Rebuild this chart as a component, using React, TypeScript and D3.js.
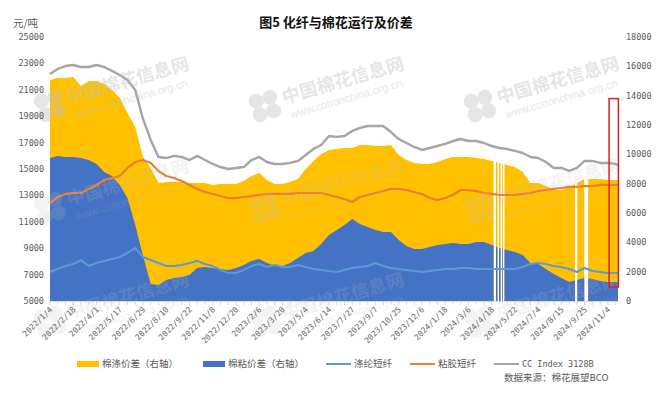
import React from "react";
import * as d3 from "d3";

// ---------- DATA ----------
// trading-day index of each sample (0 = 2022/1/4)
const sampleDays = [
  0, 10, 20, 30, 40, 50, 60, 70, 80, 90, 100, 110, 120, 130, 140, 150, 160, 170, 180, 190,
  200, 210, 220, 230, 240, 250, 260, 270, 280, 290, 300, 310, 320, 330, 340, 350, 360, 370, 380, 390,
  400, 410, 420, 430, 440, 450, 460, 470, 480, 490, 500, 510, 520, 530, 540, 550, 560, 570, 580, 590,
  600, 610, 620, 630, 640, 650, 660, 670, 680, 690, 700, 710, 720, 730, 733,
];

// CC Index 3128B (left axis, 元/吨)
const cottonIndex = [
  22200, 22580, 22800, 22880, 22730, 22730, 22880, 22730, 22430, 22120,
  21740, 20990, 18790, 17200, 15910, 15830, 15990, 15910, 15680, 15990,
  15680, 15380, 15150, 15000, 15080, 15150, 15680, 15910, 15530, 15380,
  15380, 15460, 15610, 16060, 16520, 16820, 17500, 17430, 17500, 17880,
  18110, 18260, 18260, 18260, 17800, 17270, 16970, 16670, 16440, 16590,
  16740, 16900, 17120, 17270, 17120, 17120, 16970, 16740, 16590, 16520,
  16370, 16210, 15910, 15830, 15530, 15080, 15080, 14850, 15080, 15610,
  15610, 15460, 15460, 15380, 15300,
];

// 涤纶短纤 (left axis)
const polyesterStaple = [
  7200, 7420, 7650, 7800, 8100, 7650, 7880, 8030, 8180, 8330,
  8640, 9020, 8330, 8110, 7880, 7650, 7650, 7730, 7880, 8030,
  7800, 7650, 7350, 7120, 7120, 7350, 7650, 7800, 7580, 7730,
  7580, 7580, 7730, 7580, 7420, 7350, 7270, 7200, 7350, 7500,
  7580, 7650, 7880, 7650, 7500, 7420, 7350, 7270, 7200, 7270,
  7350, 7420, 7420, 7500, 7500, 7420, 7420, 7420, 7420, 7420,
  7420, 7580, 7800, 7880, 7800, 7650, 7580, 7420, 7200, 7500,
  7270, 7200, 7120, 7120, 7120,
];

// 粘胶短纤 (left axis)
const viscoseStaple = [
  12420, 12880, 13110, 13180, 13180, 13490, 13790, 14170, 14320, 14470,
  15080, 15530, 15680, 15450, 14850, 14470, 14320, 14090, 13790, 13490,
  13260, 13110, 12950, 12800, 12800, 12880, 12950, 13030, 13110, 13110,
  13110, 13110, 13180, 13180, 13180, 13180, 13030, 12880, 12730, 12500,
  12880, 13030, 13180, 13330, 13490, 13490, 13410, 13260, 13110, 12800,
  12650, 12800, 13030, 13410, 13410, 13330, 13180, 13110, 13030, 13030,
  13030, 13110, 13180, 13330, 13410, 13490, 13560, 13640, 13640, 13710,
  13710, 13790, 13790, 13790, 13790,
];

// 棉涤价差 (right axis)
const cottonPolySpread = [
  15070, 15200, 15200, 15270, 14660, 15000, 15000, 14800, 14390, 13840,
  12820, 11860, 9820, 9070, 8050, 8110, 8110, 8110, 8050, 8050,
  8050, 7910, 7980, 7980, 7980, 8180, 8520, 8730, 8250, 7980,
  7980, 8110, 8320, 9000, 9550, 10020, 10300, 10360, 10430, 10430,
  10640, 10640, 10570, 10570, 10640, 9950, 9610, 9410, 9340, 9340,
  9480, 9680, 9820, 9820, 9820, 9750, 9680, 9550, 9410, 9270,
  9140, 8800, 8050, 8050, 7840, 7570, 7570, 7770, 8050, 8320,
  8320, 8320, 8250, 8250, 8250,
];

// 棉粘价差 (right axis)
const cottonViscoseSpread = [
  9750, 9890, 9820, 9820, 9750, 9610, 9340, 8800, 8520, 7910,
  7020, 5180, 3070, 1160, 1090, 1430, 1570, 1640, 1770, 2250,
  2320, 2250, 2180, 2110, 2250, 2450, 2730, 2860, 2590, 2390,
  2390, 2590, 2930, 3270, 3410, 3890, 4500, 4840, 5180, 5590,
  5250, 5050, 4840, 4700, 4700, 4160, 3750, 3550, 3550, 3680,
  3820, 3890, 3950, 3890, 3890, 4020, 4020, 3820, 3610, 3480,
  3340, 3140, 2590, 2520, 2180, 1840, 1570, 1300, 1430, 1570,
  1500, 1360, 1300, 1300, 1300,
];

// trading days with no spread data (white gaps in the areas)
const gapDays = [573, 574, 575, 578, 579, 582, 583, 585, 586, 678, 679, 680, 690, 691, 692, 693, 694];

// category axis labels, one every 30 trading days
const dateLabels = [
  "2022/1/4", "2022/2/18", "2022/4/1", "2022/5/17", "2022/6/29", "2022/8/10", "2022/9/22",
  "2022/11/8", "2022/12/20", "2023/2/6", "2023/3/20", "2023/5/4", "2023/6/14", "2023/7/27",
  "2023/9/7", "2023/10/25", "2023/12/6", "2024/1/18", "2024/3/6", "2024/4/18", "2024/5/22",
  "2024/7/4", "2024/8/15", "2024/9/25", "2024/11/4",
];
const labelStep = 30;
const lastDay = 733;

const leftTicks = [5000, 7000, 9000, 11000, 13000, 15000, 17000, 19000, 21000, 23000, 25000];
const rightTicks = [0, 2000, 4000, 6000, 8000, 10000, 12000, 14000, 16000, 18000];

// red highlight box (day range, right-axis value range)
const highlightDays = [721.5, 733.5];
const highlightValues = [950, 13800];

const legendItems = [
  { label: "棉涤价差（右轴）", color: "#FFC000", kind: "area" },
  { label: "棉粘价差（右轴）", color: "#4472C4", kind: "area" },
  { label: "涤纶短纤", color: "#5B9BD5", kind: "line" },
  { label: "粘胶短纤", color: "#ED7D31", kind: "line" },
  { label: "CC Index 3128B", color: "#A5A5A5", kind: "line" },
];

// ---------- LAYOUT ----------
const W = 662;
const H = 398;
const plotLeft = 50;
const plotRight = 618;
const plotTop = 37;
const plotBottom = 301;

const CJK = "'Noto Sans CJK SC', 'Noto Sans', sans-serif";
const MONO = "'DejaVu Sans Mono', 'Liberation Mono', monospace";

function Watermark({ x, y, o }: { x: number; y: number; o: number }) {
  return (
    <g transform={`translate(${x},${y}) rotate(-16)`} fill="#c0c0c0" opacity={o}>
      <circle cx={-7} cy={-7} r={7.5} />
      <circle cx={7} cy={-7} r={7.5} />
      <circle cx={-7} cy={7} r={7.5} />
      <circle cx={7} cy={7} r={7.5} />
      <text x={19} y={3} fontSize={18} fontWeight="bold" fontFamily={CJK}>中国棉花信息网</text>
      <text x={22} y={19} fontSize={11} fontFamily="'Liberation Sans', sans-serif">www.cottonchina.org.cn</text>
    </g>
  );
}

export default function App() {
  const x = d3.scaleLinear().domain([0, lastDay]).range([plotLeft, plotRight]);
  const yL = d3.scaleLinear().domain([5000, 25000]).range([plotBottom, plotTop]);
  const yR = d3.scaleLinear().domain([0, 18000]).range([plotBottom, plotTop]);

  const idx = sampleDays.map((_, i) => i);

  const areaOf = (vals: number[]) =>
    d3.area<number>()
      .x((i) => x(sampleDays[i]))
      .y0(yR(0))
      .y1((i) => yR(vals[i]))(idx) || "";

  const lineOf = (vals: number[]) =>
    d3.line<number>()
      .x((i) => x(sampleDays[i]))
      .y((i) => yL(vals[i]))(idx) || "";

  // merge gap days into ranges and build the clip for the areas
  const gapRanges: number[][] = [];
  gapDays.forEach((d) => {
    const last = gapRanges[gapRanges.length - 1];
    if (last && d === last[1] + 1) last[1] = d;
    else gapRanges.push([d, d]);
  });
  const clipRects: number[][] = [];
  let start = plotLeft - 1;
  gapRanges.forEach(([a, b]) => {
    clipRects.push([start, x(a - 0.5)]);
    start = x(b + 0.5);
  });
  clipRects.push([start, plotRight + 1]);

  const minorTicks = d3.range(0, lastDay + 1, 10);

  const legendX = [77, 203, 326, 410, 494];
  const legendY = 364;

  return (
    <div style={{ position: "absolute", left: 0, top: 0, width: W, height: H, background: "#fff" }}>
      <svg width={W} height={H} viewBox={`0 0 ${W} ${H}`} style={{ display: "block" }}>
        <rect x={0} y={0} width={W} height={H} fill="#fff" />
        <defs>
          <clipPath id="gapClip">
            {clipRects.map(([a, b], i) => (
              <rect key={i} x={a} y={plotTop - 5} width={Math.max(0, b - a)} height={plotBottom - plotTop + 6} />
            ))}
          </clipPath>
        </defs>

        {/* title */}
        <text x={336} y={27} textAnchor="middle" fontSize={13} fontWeight="bold" fontFamily={CJK} fill="#111">
          图5 化纤与棉花运行及价差
        </text>
        <text x={13} y={27} fontSize={10.5} fontFamily={CJK} fill="#595959">元/吨</text>

        {/* areas */}
        <g clipPath="url(#gapClip)">
          <path d={areaOf(cottonPolySpread)} fill="#FFC000" />
          <path d={areaOf(cottonViscoseSpread)} fill="#4472C4" />
        </g>

        {/* axis line and minor ticks */}
        <line x1={plotLeft} x2={plotRight} y1={plotBottom + 0.5} y2={plotBottom + 0.5} stroke="#d9d9d9" strokeWidth={1} />
        {minorTicks.map((d) => (
          <line key={d} x1={x(d)} x2={x(d)} y1={plotBottom} y2={plotBottom + 4} stroke="#d9d9d9" strokeWidth={1} />
        ))}

        {/* lines */}
        <path d={lineOf(polyesterStaple)} fill="none" stroke="#5B9BD5" strokeWidth={2} strokeLinejoin="round" />
        <path d={lineOf(viscoseStaple)} fill="none" stroke="#ED7D31" strokeWidth={2.2} strokeLinejoin="round" />
        <path d={lineOf(cottonIndex)} fill="none" stroke="#A5A5A5" strokeWidth={2.4} strokeLinejoin="round" />

        {/* watermarks (faint) */}
        {[50, 265, 480].map((wx) =>
          [106, 208, 322].map((wy) => (
            <Watermark key={`${wx}-${wy}`} x={wx} y={wy} o={wy === 106 ? 0.4 : 0.18} />
          ))
        )}

        {/* highlight box */}
        <rect
          x={x(highlightDays[0])}
          y={yR(highlightValues[1])}
          width={x(highlightDays[1]) - x(highlightDays[0])}
          height={yR(highlightValues[0]) - yR(highlightValues[1])}
          fill="none"
          stroke="#E02020"
          strokeWidth={1.5}
        />

        {/* left axis labels */}
        {leftTicks.map((t) => (
          <text key={t} x={44} y={yL(t)} dy="0.35em" textAnchor="end" fontSize={8.5} fontFamily={MONO} fill="#595959">
            {t}
          </text>
        ))}
        {/* right axis labels */}
        {rightTicks.map((t) => (
          <text key={t} x={626} y={yR(t)} dy="0.35em" textAnchor="start" fontSize={8.5} fontFamily={MONO} fill="#595959">
            {t}
          </text>
        ))}
        {/* x labels */}
        {dateLabels.map((lab, i) => {
          const px = x(i * labelStep);
          return (
            <text
              key={lab}
              transform={`translate(${px + 3},${plotBottom + 9}) rotate(-45)`}
              textAnchor="end"
              fontSize={8}
              fontFamily={MONO}
              fill="#666"
            >
              {lab}
            </text>
          );
        })}

        {/* legend */}
        {legendItems.map((it, i) => {
          const lx = legendX[i];
          return (
            <g key={it.label}>
              {it.kind === "area" ? (
                <rect x={lx} y={legendY - 3} width={22} height={6} fill={it.color} />
              ) : (
                <line x1={lx} x2={lx + 25} y1={legendY} y2={legendY} stroke={it.color} strokeWidth={2} />
              )}
              <text
                x={lx + (it.kind === "area" ? 25 : 28)}
                y={legendY}
                dy="0.35em"
                fontSize={it.label.startsWith("CC") ? 8.5 : 9.5}
                fontFamily={it.label.startsWith("CC") ? MONO : CJK}
                fill="#595959"
              >
                {it.label}
              </text>
            </g>
          );
        })}
        <text x={504} y={378} dy="0.35em" fontSize={9.5} fontFamily={CJK} fill="#595959">数据来源：棉花展望BCO</text>
      </svg>
    </div>
  );
}
